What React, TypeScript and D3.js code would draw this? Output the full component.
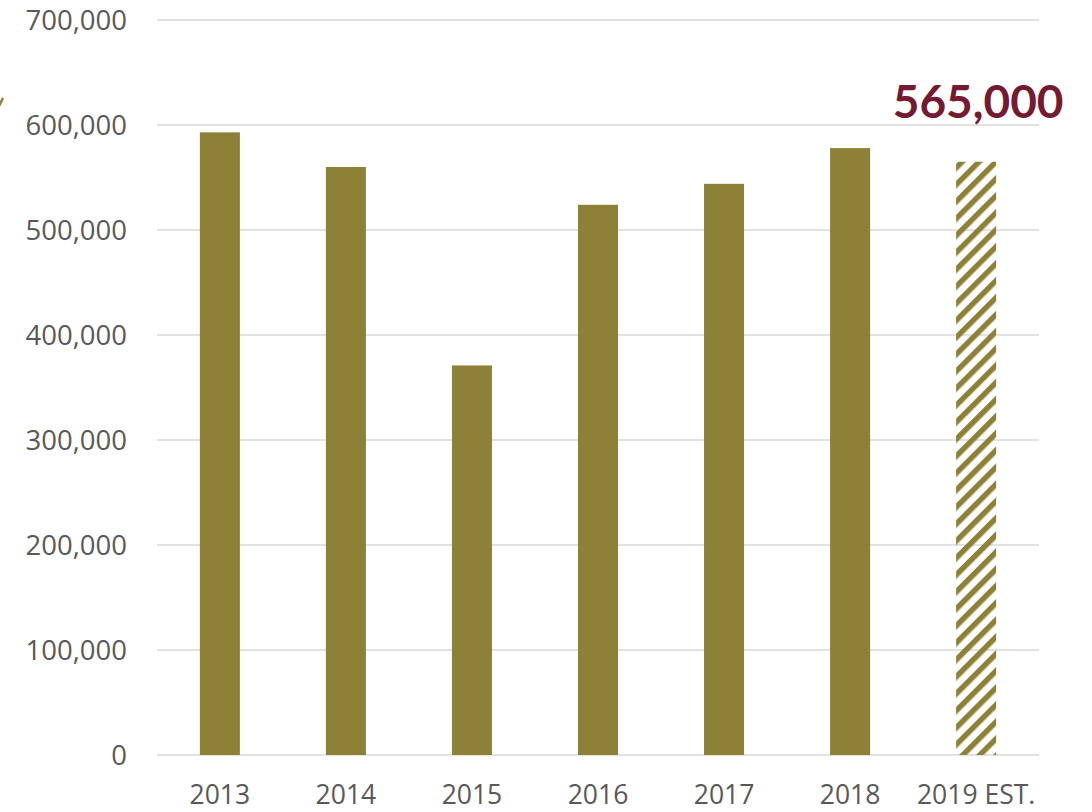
import React from "react";
import * as d3 from "d3";

const categories = ["2013", "2014", "2015", "2016", "2017", "2018", "2019 EST."];
const values = [593000, 560000, 371000, 524000, 544000, 578000, 565000];
const estimated = [false, false, false, false, false, false, true];
const yTicks = [0, 100000, 200000, 300000, 400000, 500000, 600000, 700000];
const calloutLabel = "565,000";

const W = 1092;
const H = 812;
const BAR = "#8C8136";
const TEXT = "#595959";
const GRID = "#D9D9D9";
const CALLOUT = "#741B33";
const FONT = "'Open Sans', 'Noto Sans', sans-serif";

export default function App() {
  const left = 157;
  const right = 1039;
  const top = 20;
  const bottom = 755;
  const x = d3.scaleBand<string>().domain(categories).range([left, right]).paddingInner(0.6825).paddingOuter(0.34);
  const y = d3.scaleLinear().domain([0, 700000]).range([bottom, top]);
  const fmt = d3.format(",");
  const estIdx = estimated.indexOf(true);

  return (
    <svg width={W} height={H} style={{ position: "absolute", left: 0, top: 0, background: "#fff" }}>
      <defs>
        <pattern id="hatch" patternUnits="userSpaceOnUse" width={12} height={12} patternTransform="rotate(45)">
          <rect x={0} y={0} width={5.5} height={12} fill={BAR} />
        </pattern>
      </defs>
      {yTicks.map((t) => (
        <g key={t}>
          <line x1={left} x2={right} y1={y(t)} y2={y(t)} stroke={GRID} strokeWidth={1.5} />
          <text x={127} y={y(t) + 10} textAnchor="end" fontFamily={FONT} fontSize={27.5} fill={TEXT}>
            {fmt(t)}
          </text>
        </g>
      ))}
      {categories.map((c, i) => (
        <rect
          key={c}
          x={x(c)}
          y={y(values[i])}
          width={x.bandwidth()}
          height={bottom - y(values[i])}
          fill={estimated[i] ? "url(#hatch)" : BAR}
        />
      ))}
      {categories.map((c) => (
        <text
          key={c}
          x={(x(c) as number) + x.bandwidth() / 2}
          y={804}
          textAnchor="middle"
          fontFamily={FONT}
          fontSize={26.5}
          fill={TEXT}
        >
          {c}
        </text>
      ))}
      <text
        x={(x(categories[estIdx]) as number) + x.bandwidth() / 2 + 2}
        y={y(values[estIdx]) - 44}
        textAnchor="middle"
        fontFamily="Lato, 'Open Sans', sans-serif"
        fontWeight={700}
        fontSize={46}
        fill={CALLOUT}
      >
        {calloutLabel}
      </text>
      <line x1={-1} y1={106} x2={3} y2={98} stroke={BAR} strokeWidth={2.5} />
    </svg>
  );
}
